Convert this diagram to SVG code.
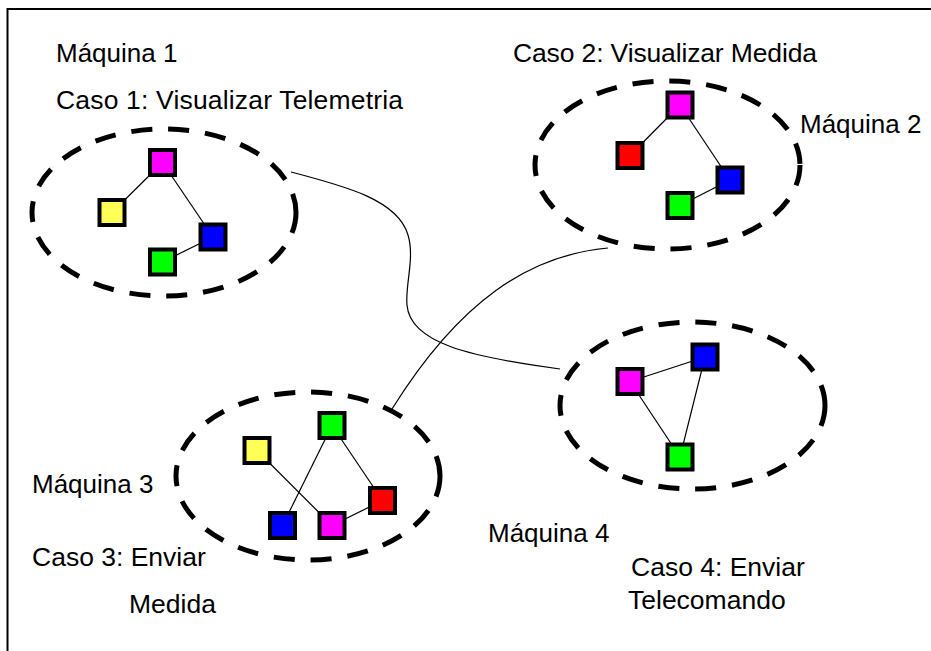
<svg xmlns="http://www.w3.org/2000/svg" width="931" height="651" viewBox="0 0 931 651">
<style>
.t{font-family:"Liberation Sans",Arial,sans-serif;font-size:26.5px;fill:#000}
.q{font-size:26px}
.cl{fill:none;stroke:#000;stroke-width:5;stroke-dasharray:21 16}
.n{stroke:#000;stroke-width:4}
.e{stroke:#000;stroke-width:1.2;fill:none}
.m{fill:#FF00FF}.y{fill:#FFFF55}.b{fill:#0000FF}.g{fill:#00FF00}.r{fill:#FF0000}
</style>
<rect width="931" height="651" fill="#fff"/>
<path d="M7.5,651 V9 H931" fill="none" stroke="#000" stroke-width="2"/>

<g id="connectors">
<path class="e" d="M291,172 C345,186 398,200 408,235 C415,258 405,285 407,305 C410,343 470,357 560,369"/>
<path class="e" d="M608,248 C530,255 460,300 392,409"/>
<line class="e" x1="162.5" y1="162.5" x2="112" y2="212.5"/>
<line class="e" x1="162.5" y1="162.5" x2="213" y2="237"/>
<line class="e" x1="213" y1="237" x2="162.5" y2="262"/>
<line class="e" x1="680" y1="105" x2="630" y2="155.5"/>
<line class="e" x1="680" y1="105" x2="730" y2="180"/>
<line class="e" x1="730" y1="180" x2="680" y2="205.5"/>
<line class="e" x1="257" y1="450.5" x2="332" y2="525.5"/>
<line class="e" x1="332" y1="425.5" x2="282.5" y2="525.5"/>
<line class="e" x1="332" y1="425.5" x2="382.5" y2="500.5"/>
<line class="e" x1="332" y1="525.5" x2="382.5" y2="500.5"/>
<line class="e" x1="630" y1="381.5" x2="705" y2="357"/>
<line class="e" x1="630" y1="381.5" x2="680" y2="457"/>
<line class="e" x1="705" y1="357" x2="680" y2="457"/>
</g>

<g id="maquina1">
<ellipse class="cl" cx="164" cy="212.5" rx="132" ry="83.5"/>
<text class="t q" x="56" y="62">Máquina 1</text>
<text class="t" x="56" y="109" textLength="347">Caso 1: Visualizar Telemetria</text>
</g>
<g id="m1-magenta"><rect class="n m" x="150" y="150" width="25" height="25"/></g>
<g id="m1-yellow"><rect class="n y" x="99.5" y="200" width="25" height="25"/></g>
<g id="m1-blue"><rect class="n b" x="200.5" y="224.5" width="25" height="25"/></g>
<g id="m1-green"><rect class="n g" x="150" y="249.5" width="25" height="25"/></g>

<g id="maquina2">
<ellipse class="cl" cx="667.5" cy="165" rx="132.5" ry="84"/>
<text class="t" x="513" y="62" textLength="304">Caso 2: Visualizar Medida</text>
<text class="t q" x="800" y="133">Máquina 2</text>
</g>
<g id="m2-magenta"><rect class="n m" x="667.5" y="92.5" width="25" height="25"/></g>
<g id="m2-red"><rect class="n r" x="617.5" y="143" width="25" height="25"/></g>
<g id="m2-blue"><rect class="n b" x="717.5" y="167.5" width="25" height="25"/></g>
<g id="m2-green"><rect class="n g" x="667.5" y="193" width="25" height="25"/></g>

<g id="maquina3">
<ellipse class="cl" cx="308" cy="476" rx="132" ry="84"/>
<text class="t q" x="32" y="493">Máquina 3</text>
<text class="t" x="32" y="566">Caso 3: Enviar</text>
<text class="t" x="129" y="613">Medida</text>
</g>
<g id="m3-yellow"><rect class="n y" x="244.5" y="438" width="25" height="25"/></g>
<g id="m3-green"><rect class="n g" x="319.5" y="413" width="25" height="25"/></g>
<g id="m3-red"><rect class="n r" x="370" y="488" width="25" height="25"/></g>
<g id="m3-blue"><rect class="n b" x="270" y="513" width="25" height="25"/></g>
<g id="m3-magenta"><rect class="n m" x="319.5" y="513" width="25" height="25"/></g>

<g id="maquina4">
<ellipse class="cl" cx="692.5" cy="405.5" rx="132.5" ry="83.5"/>
<text class="t q" x="488" y="542">Máquina 4</text>
<text class="t" x="631" y="576">Caso 4: Enviar</text>
<text class="t" x="628" y="609">Telecomando</text>
</g>
<g id="m4-magenta"><rect class="n m" x="617.5" y="369" width="25" height="25"/></g>
<g id="m4-blue"><rect class="n b" x="692.5" y="344.5" width="25" height="25"/></g>
<g id="m4-green"><rect class="n g" x="667.5" y="444.5" width="25" height="25"/></g>
</svg>
